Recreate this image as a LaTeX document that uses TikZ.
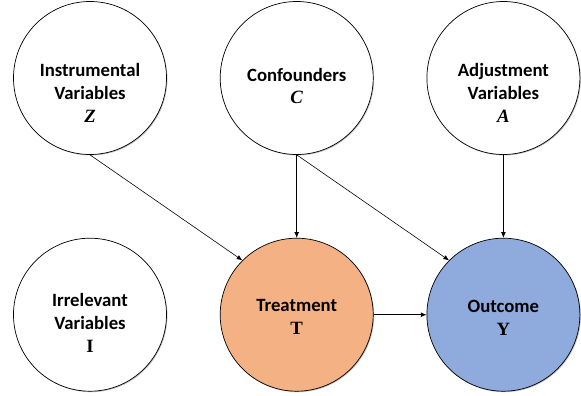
\documentclass[tikz,border=0pt]{standalone}
\usepackage{fontspec}
\setmainfont{Carlito}
\newfontfamily\letterfont{Liberation Serif}
\usetikzlibrary{positioning, arrows.meta, shadows}

\definecolor{treatfill}{HTML}{F4B183}
\definecolor{outfill}{HTML}{8FAADC}
\newcommand{\varletter}{\letterfont\bfseries\fontsize{16}{18}\selectfont}

\begin{document}
\begin{tikzpicture}[
            var/.style={circle, draw, line width=0.6pt, minimum size=4.59cm, fill=white,
                drop shadow={shadow xshift=0.8pt, shadow yshift=-0.8pt, fill=black!50, opacity=0.5}},
            vartext/.style={align=center, font=\bfseries\fontsize{16}{19.6}\selectfont},
            link/.style={-{Latex[length=1.7mm, width=1.4mm]}, line width=0.5pt},
            node distance=2.49cm and 1.59cm
        ]
        % Circles
        \node[var] (Z) {};
        \node[var, right=of Z] (C) {};
        \node[var, right=of C] (A) {};
        \node[var, below=of Z] (I) {};
        \node[var, fill=treatfill, below=of C] (T) {};
        \node[var, fill=outfill, below=of A] (Y) {};

        % fix the margins
        \useasboundingbox ([xshift=-2.7cm, yshift=2.34cm]Z.center) rectangle ++(17.43,-11.85);

        % Labels
        \node[vartext] (Zt) at ([yshift=-0.45cm]Z.center) {Instrumental\\Variables\\{\varletter\itshape Z}};
        \node[vartext] (Ct) at ([yshift=-0.24cm]C.center) {Confounders\\{\varletter\itshape C}};
        \node[vartext] (At) at ([yshift=-0.45cm]A.center) {Adjustment\\Variables\\{\varletter\itshape A}};
        \node[vartext] (It) at ([yshift=-0.24cm]I.center) {Irrelevant\\Variables\\{\varletter I}};
        \node[vartext] (Tt) at ([yshift=-0.08cm]T.center) {Treatment\\{\varletter T}};
        \node[vartext] (Yt) at ([yshift=-0.08cm]Y.center) {Outcome\\{\varletter Y}};

        % Arrows
        \draw[link] (Z.south) -- (T.135);
        \draw[link] (C.south) -- (T.north);
        \draw[link] (C.south) -- (Y.135);
        \draw[link] (A.south) -- (Y.north);
        \draw[link] (T.east) -- (Y.west);

    \end{tikzpicture}
\end{document}
